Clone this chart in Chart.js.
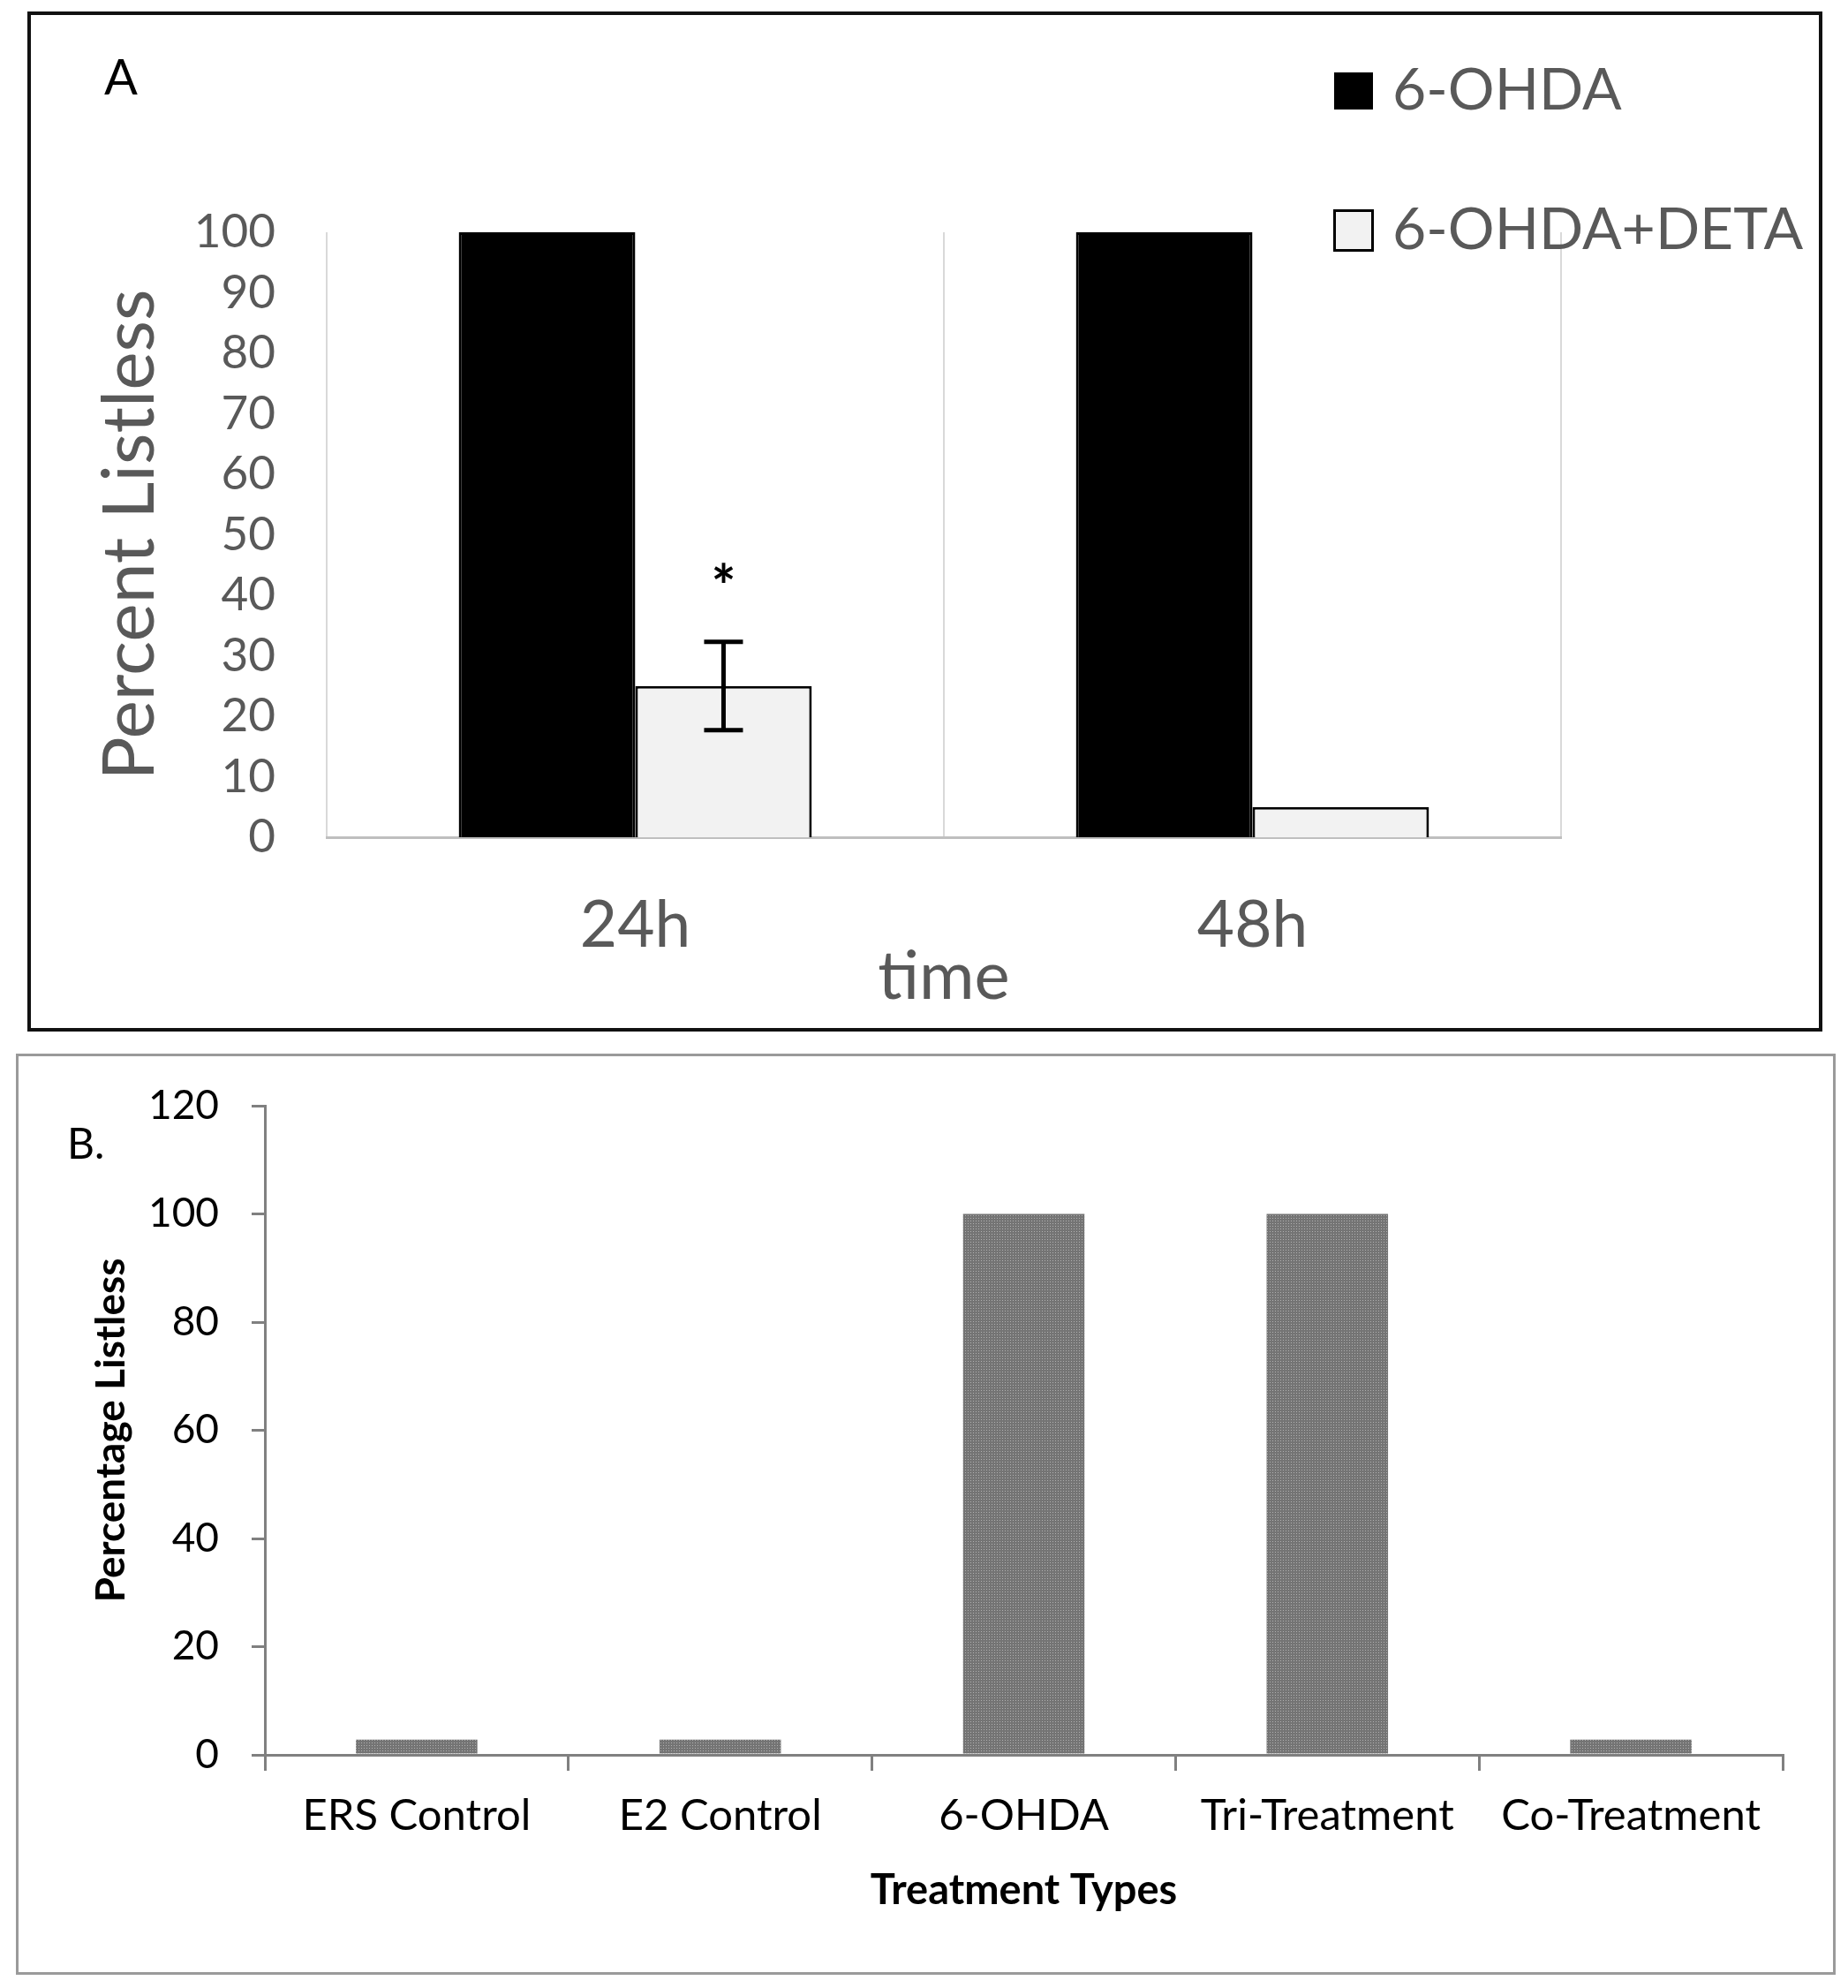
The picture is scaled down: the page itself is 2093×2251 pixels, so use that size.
<!DOCTYPE html>
<html><head><meta charset="utf-8">
<script src="https://cdn.jsdelivr.net/npm/chart.js@4.4.0/dist/chart.umd.min.js"></script>
<style>
html,body{margin:0;padding:0;background:#fff;}
body{width:2093px;height:2251px;position:relative;overflow:hidden;}
#wrapA{position:absolute;left:0;top:0;width:2093px;height:1180px;}
#wrapB{position:absolute;left:0;top:1180px;width:2093px;height:1071px;}
.frame{position:absolute;box-sizing:border-box;pointer-events:none;}
#frameA{left:31px;top:13px;width:2033px;height:1155px;border:4px solid #111;}
#frameB{left:18px;top:1193px;width:2061px;height:1043px;border:3px solid #9a9a9a;}
canvas{display:block;}
</style></head>
<body>
<div id="wrapA"><canvas id="chartA" width="2093" height="1180" style="width:2093px;height:1180px"></canvas></div>
<div id="wrapB"><canvas id="chartB" width="2093" height="1071" style="width:2093px;height:1071px"></canvas></div>
<div class="frame" id="frameA"></div>
<div class="frame" id="frameB"></div>
<script>
// ---- Panel A data ----
const timeLabels = ['24h', '48h'];
const seriesNames = ['6-OHDA', '6-OHDA+DETA'];
const ohdaValues = [100, 100];
const ohdaDetaValues = [25, 5];
const ohdaDetaErrors = [7.3, 0];
const ohdaDetaMarks = ['*', ''];
const yTicksA = [0, 10, 20, 30, 40, 50, 60, 70, 80, 90, 100];

// ---- Panel B data ----
const treatmentLabels = ['ERS Control', 'E2 Control', '6-OHDA', 'Tri-Treatment', 'Co-Treatment'];
const listlessValues = [2.8, 2.8, 100, 100, 2.8];
const yTicksB = [0, 20, 40, 60, 80, 100, 120];

const GRAY_TEXT = '#595959';
const FONT = 'Lato';

const errorBarsPlugin = {
  id: 'errorBars',
  afterDatasetsDraw(chart) {
    const ctx = chart.ctx, yS = chart.scales.y;
    chart.data.datasets.forEach((ds, di) => {
      if (!ds.errors) return;
      const meta = chart.getDatasetMeta(di);
      meta.data.forEach((bar, i) => {
        const e = ds.errors[i], v = ds.data[i];
        let topY = bar.y;
        if (e > 0) {
          const y1 = yS.getPixelForValue(v + e), y2 = yS.getPixelForValue(v - e);
          ctx.save();
          ctx.strokeStyle = '#000'; ctx.lineWidth = 5;
          ctx.beginPath();
          ctx.moveTo(bar.x, y1); ctx.lineTo(bar.x, y2);
          ctx.moveTo(bar.x - 22, y1); ctx.lineTo(bar.x + 22, y1);
          ctx.moveTo(bar.x - 22, y2); ctx.lineTo(bar.x + 22, y2);
          ctx.stroke();
          ctx.restore();
          topY = y1;
        }
        const m = ds.marks && ds.marks[i];
        if (m) {
          ctx.save();
          ctx.font = 'bold 66px ' + FONT; ctx.fillStyle = '#000';
          ctx.textAlign = 'center'; ctx.textBaseline = 'middle';
          ctx.fillText(m, bar.x, topY - 60);
          ctx.restore();
        }
      });
    });
  }
};

const LEGEND_X = 1511, LEGEND_ROWS = [103, 261];
const legendPlugin = {
  id: 'legendA',
  afterDraw(chart) {
    const ctx = chart.ctx;
    chart.data.datasets.forEach((ds, i) => {
      const cy = LEGEND_ROWS[i];
      ctx.save();
      ctx.fillStyle = ds.backgroundColor;
      ctx.fillRect(LEGEND_X, cy - 21, 44, 42);
      if (ds.backgroundColor !== ds.borderColor) {
        ctx.lineWidth = 3; ctx.strokeStyle = ds.borderColor;
        ctx.strokeRect(LEGEND_X + 0.5, cy - 22.5, 43, 45);
      }
      ctx.font = '66px ' + FONT; ctx.fillStyle = GRAY_TEXT;
      ctx.textAlign = 'left'; ctx.textBaseline = 'middle';
      ctx.fillText(ds.label, 1577, cy);
      ctx.restore();
    });
  }
};

function panelLabel(text, x, y, size) {
  return {
    id: 'panelLabel' + text.replace('.', ''),
    afterDraw(chart) {
      const ctx = chart.ctx;
      ctx.save();
      ctx.font = size + 'px ' + FONT; ctx.fillStyle = '#000';
      ctx.textAlign = 'left'; ctx.textBaseline = 'alphabetic';
      ctx.fillText(text, x, y);
      ctx.restore();
    }
  };
}

// ---- Chart A ----
new Chart(document.getElementById('chartA'), {
  type: 'bar',
  data: {
    labels: timeLabels,
    datasets: [
      { label: seriesNames[0], data: ohdaValues, backgroundColor: '#000000', borderColor: '#000000', borderWidth: 3 },
      { label: seriesNames[1], data: ohdaDetaValues, backgroundColor: '#f2f2f2', borderColor: '#000000', borderWidth: 3,
        errors: ohdaDetaErrors, marks: ohdaDetaMarks }
    ]
  },
  options: {
    responsive: false, animation: false, devicePixelRatio: 1,
    layout: { padding: { top: 263, right: 325, left: 0, bottom: 0 } },
    datasets: { bar: { categoryPercentage: 0.572, barPercentage: 1 } },
    plugins: { legend: { display: false }, tooltip: { enabled: false } },
    scales: {
      x: {
        grid: { display: true, color: '#d9d9d9', lineWidth: 2, drawTicks: false, offset: true },
        border: { display: true, color: '#bfbfbf', width: 3 },
        ticks: { font: { family: FONT, size: 73 }, color: GRAY_TEXT, padding: 57 },
        title: { display: true, text: 'time', font: { family: FONT, size: 76 }, color: GRAY_TEXT, padding: { top: 0, bottom: 28 } },
        afterFit(a) { a.height = 232; }
      },
      y: {
        min: 0, max: 100,
        grid: { display: false, drawTicks: false },
        border: { display: false },
        afterBuildTicks(a) { a.ticks = yTicksA.map(v => ({ value: v })); },
        ticks: { font: { family: FONT, size: 53 }, color: GRAY_TEXT, padding: 58 },
        title: { display: true, text: 'Percent Listless', font: { family: FONT, size: 82 }, color: GRAY_TEXT, padding: { top: 98, bottom: 0 } },
        afterFit(a) { a.width = 370; }
      }
    }
  },
  plugins: [errorBarsPlugin, legendPlugin, panelLabel('A', 118, 107, 56)]
});

// ---- Chart B ----
const canvasB = document.getElementById('chartB');
function makeTexture(ctx) {
  const c = document.createElement('canvas');
  c.width = 3; c.height = 3;
  const g = c.getContext('2d');
  g.fillStyle = '#747474'; g.fillRect(0, 0, 3, 3);
  g.fillStyle = '#b0b0b0'; g.fillRect(1, 1, 1, 1);
  return ctx.createPattern(c, 'repeat');
}
const textureB = makeTexture(canvasB.getContext('2d'));

new Chart(canvasB, {
  type: 'bar',
  data: {
    labels: treatmentLabels,
    datasets: [
      { label: 'Percentage Listless', data: listlessValues, backgroundColor: textureB, borderWidth: 0 }
    ]
  },
  options: {
    responsive: false, animation: false, devicePixelRatio: 1,
    layout: { padding: { top: 72, right: 74, left: 0, bottom: 0 } },
    datasets: { bar: { categoryPercentage: 0.4, barPercentage: 1 } },
    plugins: { legend: { display: false }, tooltip: { enabled: false } },
    scales: {
      x: {
        grid: { display: true, drawOnChartArea: false, drawTicks: true, tickLength: 18, color: '#808080', lineWidth: 3, offset: true },
        border: { display: true, color: '#808080', width: 3 },
        ticks: { font: { family: FONT, size: 49 }, color: '#000', padding: 22 },
        title: { display: true, text: 'Treatment Types', font: { family: FONT, size: 47, weight: 'bold' }, color: '#000', padding: { top: 0, bottom: 82 } },
        afterFit(a) { a.height = 264; }
      },
      y: {
        min: 0, max: 120,
        grid: { display: true, drawOnChartArea: false, drawTicks: true, tickLength: 15, color: '#808080', lineWidth: 3 },
        border: { display: true, color: '#808080', width: 3 },
        afterBuildTicks(a) { a.ticks = yTicksB.map(v => ({ value: v })); },
        ticks: { font: { family: FONT, size: 46 }, color: '#000', padding: 37 },
        title: { display: true, text: 'Percentage Listless', font: { family: FONT, size: 46, weight: 'bold' }, color: '#000', padding: { top: 99, bottom: 0 } },
        afterFit(a) { a.width = 300; }
      }
    }
  },
  plugins: [panelLabel('B.', 76, 132, 48)]
});
</script>
</body></html>
